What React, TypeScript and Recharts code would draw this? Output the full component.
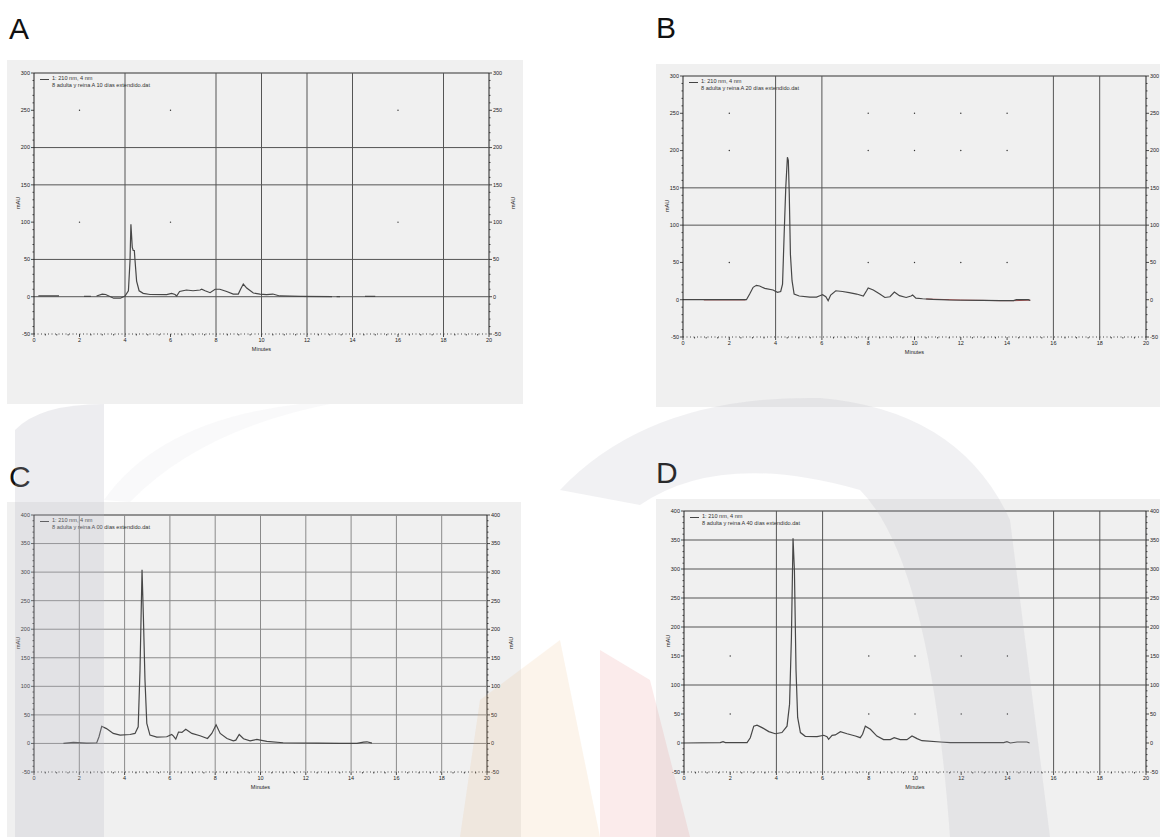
import React from 'react';
import { LineChart, Line, XAxis, YAxis, ReferenceLine, ReferenceDot } from 'recharts';

// retention time (min) and absorbance (mAU); null breaks the trace
const timesA = [0.19, 1.1, null, 2.2, 2.5, null, 2.75, 3.0, 3.15, 3.5, 3.8, 4.0, 4.15, 4.22, 4.26, 4.32, 4.36, 4.41, 4.44, 4.51, 4.62, 4.8, 5.1, 5.83, 6.05, 6.2, 6.27, 6.4, 6.7, 6.99, 7.3, 7.37, 7.52, 7.74, 7.96, 8.17, 8.47, 8.76, 8.98, 9.08, 9.2, 9.35, 9.64, 9.93, 10.22, 10.5, 10.8, 11.7, 13.1, null, 13.3, 13.45, null, 14.55, 15.0];
const valuesA = [1, 1, null, 0.5, 0.5, null, 1, 3.5, 3, -2, -2, 1, 8, 48, 97, 66, 62, 62, 49, 21, 8, 4.5, 3, 2.7, 4.5, 3, 1, 7, 9, 8, 9, 10, 8, 5.4, 10, 10, 7, 3.6, 3.6, 10, 17, 11.6, 5, 3.6, 2.8, 3.6, 1, 0.5, 0, null, 0, 0, null, 0.5, 0.5];

const timesB = [0, 2.74, 2.88, 3.03, 3.17, 3.31, 3.53, 3.89, 4.08, 4.22, 4.3, 4.37, 4.44, 4.51, 4.55, 4.59, 4.64, 4.71, 4.8, 5.02, 5.48, 5.77, 5.91, 6.03, 6.17, 6.27, 6.38, 6.6, 6.89, 7.18, 7.5, 7.79, 7.93, 8.0, 8.22, 8.5, 8.72, 8.94, 9.13, 9.35, 9.64, 9.85, 9.92, 10.06, 10.35, 10.78, 11.5, 12.95, 13.7, 14.28, 14.4, 14.92, 15.0];
const valuesB = [0, 0, 7.6, 16.6, 19.3, 18.4, 15.2, 13, 9.9, 11, 21, 88, 151, 191, 187, 142, 61, 25.5, 7.6, 5, 3.6, 3.6, 5.4, 6.7, 4, -1.3, 6.3, 12, 11, 9.4, 7.6, 5, 12, 15.7, 13, 7.6, 3, 4, 10.3, 5.4, 3, 5, 6.3, 2.2, 1.3, 0.4, -0.4, -1, -1.3, -1.3, 0, 0, -1];
const timesBRef = [0.9, 2.7, null, 10.5, 12.0, 13.7, 14.3, 15.0];
const valuesBRef = [-0.3, -0.3, null, 1, -0.4, -1.3, -1.3, -0.6];

const timesC = [1.3, 1.74, 2.33, 2.77, 2.87, 2.99, 3.2, 3.5, 3.8, 4.24, 4.46, 4.6, 4.68, 4.77, 4.83, 4.9, 4.98, 5.12, 5.42, 5.86, 6.08, 6.15, 6.26, 6.38, 6.53, 6.7, 6.97, 7.33, 7.66, 7.85, 8.04, 8.22, 8.52, 8.8, 8.91, 9.06, 9.25, 9.54, 9.84, 9.99, 10.28, 11.0, 12.5, 13.5, 14.26, 14.55, 14.7, 14.92];
const valuesC = [0, 1.7, 0.6, 1.2, 11.7, 30, 26, 17.5, 14.6, 15.7, 17.5, 29, 128, 304, 221, 111, 35, 14.6, 11, 11.7, 15.7, 13.4, 7.6, 20, 19.4, 25, 17.5, 13.4, 8.7, 17.5, 32.6, 17.5, 8.7, 4.7, 5.8, 15.7, 8.2, 4.7, 7, 5.8, 3.5, 1.2, 0.6, 0, 0, 2.3, 2.9, 0.6];

const timesD = [0, 1.57, 1.69, 1.79, 2.73, 2.87, 3.02, 3.16, 3.38, 3.67, 3.95, 4.24, 4.46, 4.57, 4.65, 4.72, 4.78, 4.85, 4.92, 5.04, 5.25, 5.76, 6.05, 6.19, 6.26, 6.41, 6.55, 6.77, 7.06, 7.42, 7.63, 7.73, 7.85, 8.07, 8.35, 8.64, 8.93, 9.1, 9.36, 9.65, 9.87, 10.09, 10.3, 11.1, 11.53, 13.84, 13.98, 14.13, 14.42, 14.85, 14.96];
const valuesD = [0, 0.6, 2.3, 0.6, 0.6, 9, 29, 30.6, 26.5, 19.6, 16, 18, 29, 67, 182, 353, 298, 125, 44, 18, 11.5, 11, 13.3, 11, 6.3, 13.3, 13.9, 19.6, 16, 12, 9.2, 15, 29, 23.7, 12, 5.8, 5.8, 9.2, 5.8, 5.8, 12, 7.5, 4, 1.7, 0.6, 0.6, 2.3, 0, 1.7, 1.7, 0];

// axis ticks (major labelled, minor unlabelled)
const minuteTicks = [0, 2, 4, 6, 8, 10, 12, 14, 16, 18, 20];
const minuteMinor = Array.from({ length: 41 }, (_, i) => i * 0.5);
const mauTicks300 = [-50, 0, 50, 100, 150, 200, 250, 300];
const mauTicks400 = [-50, 0, 50, 100, 150, 200, 250, 300, 350, 400];

// grid lines that survive in each scan, plus the lone intersection dots
const gridA = { h: [200, 150, 50, 0], v: [4, 8, 10, 12, 14, 18], dotX: [2, 6, 16], dotY: [250, 100] };
const gridB = { h: [150, 100], v: [4, 6, 16, 18], dotX: [2, 8, 10, 12, 14], dotY: [250, 200, 50] };
const gridC = { h: [350, 300, 250, 200, 150, 100, 50, 0], v: [2, 4, 6, 8, 10, 12, 14, 16, 18], dotX: [], dotY: [] };
const gridD = { h: [350, 300, 250, 200, 100], v: [4, 6, 16, 18], dotX: [2, 8, 10, 12, 14], dotY: [150, 50] };

const legendTitle = '1: 210 nm, 4 nm';
const legendFiles = [
  '8 adulta y reina A 10 días extendido.dat',
  '8 adulta y reina A 20 días extendido.dat',
  '8 adulta y reina A 00 días extendido.dat',
  '8 adulta y reina A 40 días extendido.dat',
];

const FONT = '"Liberation Sans", Arial, sans-serif';
const INK = '#222';

function toPoints(times: (number | null)[], values: (number | null)[]) {
  return times.map((t, i) => ({ t, v: values[i] }));
}

// draws the left tick and its mirror on the right-hand axis
function yTick(major: number[], rightX: number) {
  return (props: any) => {
    const { x, y, payload } = props;
    const isMajor = major.includes(payload.value);
    const len = isMajor ? 3 : 1.5;
    return (
      <g>
        <line x1={x} x2={x - len} y1={y} y2={y} stroke={INK} strokeWidth={0.8} />
        <line x1={rightX} x2={rightX + len} y1={y} y2={y} stroke={INK} strokeWidth={0.8} />
        {isMajor && (
          <text x={x - 4} y={y} dy="0.35em" textAnchor="end" fontSize={5.5} fontFamily={FONT} fill={INK}>
            {payload.value}
          </text>
        )}
        {isMajor && (
          <text x={rightX + 4} y={y} dy="0.35em" textAnchor="start" fontSize={5.5} fontFamily={FONT} fill={INK}>
            {payload.value}
          </text>
        )}
      </g>
    );
  };
}

function xTick(props: any) {
  const { x, y, payload } = props;
  const isMajor = minuteTicks.includes(payload.value);
  return (
    <g>
      <line x1={x} x2={x} y1={y} y2={y + (isMajor ? 3 : 1.5)} stroke={INK} strokeWidth={0.8} />
      {isMajor && (
        <text x={x} y={y + 8} textAnchor="middle" fontSize={5.5} fontFamily={FONT} fill={INK}>
          {payload.value}
        </text>
      )}
    </g>
  );
}

interface PanelProps {
  left: number;
  top: number;
  width: number;
  height: number;
  margin: { top: number; right: number; bottom: number; left: number };
  yMax: number;
  yTicks: number[];
  grid: { h: number[]; v: number[]; dotX: number[]; dotY: number[] };
  gridColor: string;
  points: { t: number | null; v: number | null }[];
  refPoints?: { t: number | null; v: number | null }[];
  file: string;
  rightLabel: boolean;
}

const AXIS_W = 20;
const AXIS_H = 20;

function Panel({ left, top, width, height, margin, yMax, yTicks, grid, gridColor, points, refPoints, file, rightLabel }: PanelProps) {
  const yAll = Array.from({ length: (yMax + 50) / 10 + 1 }, (_, i) => -50 + i * 10);
  const m = {
    top: margin.top,
    left: margin.left - AXIS_W,
    right: margin.right,
    bottom: margin.bottom - AXIS_H,
  };
  const rightX = width - margin.right;
  const labelStyle = { fontSize: 5.5, fontFamily: FONT, fill: INK };
  const midY = margin.top + (height - margin.top - margin.bottom) / 2;
  const sideText: React.CSSProperties = {
    position: 'absolute',
    top: midY - 4,
    transform: 'rotate(-90deg)',
    fontFamily: FONT,
    fontSize: 5.5,
    color: INK,
  };
  return (
    <div style={{ position: 'absolute', left, top, width, height, background: '#f0f0f0' }}>
      <LineChart width={width} height={height} margin={m}>
        <XAxis
          xAxisId="x"
          dataKey="t"
          type="number"
          domain={[0, 20]}
          ticks={minuteMinor}
          interval={0}
          height={AXIS_H}
          tick={xTick}
          tickSize={0}
          tickMargin={0}
          tickLine={false}
          axisLine={{ stroke: '#444', strokeDasharray: '1 2.5' }}
          label={{ value: 'Minutes', position: 'insideBottom', offset: 3, style: labelStyle }}
        />
        <YAxis
          yAxisId="l"
          type="number"
          domain={[-50, yMax]}
          ticks={yAll}
          interval={0}
          width={AXIS_W}
          tick={yTick(yTicks, rightX)}
          tickSize={0}
          tickMargin={0}
          tickLine={false}
          axisLine={{ stroke: INK }}
        />
        <ReferenceLine xAxisId="x" yAxisId="l" y={yMax} stroke="#333" strokeWidth={1} />
        <ReferenceLine xAxisId="x" yAxisId="l" x={20} stroke={INK} strokeWidth={1} />
        {grid.h.map((y) => (
          <ReferenceLine key={'h' + y} xAxisId="x" yAxisId="l" y={y} stroke={gridColor} strokeWidth={1} />
        ))}
        {grid.v.map((x) => (
          <ReferenceLine key={'v' + x} xAxisId="x" yAxisId="l" x={x} stroke={gridColor} strokeWidth={1} />
        ))}
        {grid.dotX.flatMap((x) =>
          grid.dotY.map((y) => (
            <ReferenceDot key={`d${x}-${y}`} xAxisId="x" yAxisId="l" x={x} y={y} r={0.7} fill="#333" stroke="none" />
          ))
        )}
        {refPoints && (
          <Line
            xAxisId="x"
            yAxisId="l"
            data={refPoints}
            dataKey="v"
            type="linear"
            stroke="#a04a4a"
            strokeWidth={1}
            dot={false}
            connectNulls={false}
            isAnimationActive={false}
          />
        )}
        <Line
          xAxisId="x"
          yAxisId="l"
          data={points}
          dataKey="v"
          name={legendTitle}
          type="linear"
          stroke="#474747"
          strokeWidth={1.2}
          dot={false}
          connectNulls={false}
          isAnimationActive={false}
        />
      </LineChart>
      <div style={{ ...sideText, left: margin.left - 22 }}>mAU</div>
      {rightLabel && <div style={{ ...sideText, left: width - margin.right + 18 }}>mAU</div>}
      <div
        style={{
          position: 'absolute',
          left: margin.left + 6,
          top: margin.top + 2,
          display: 'flex',
          fontFamily: FONT,
          fontSize: 5.6,
          color: '#333',
          lineHeight: '6.5px',
          whiteSpace: 'nowrap',
        }}
      >
        <div style={{ width: 9, height: 1, background: '#444', marginTop: 4, marginRight: 3 }} />
        <div>
          <div>{legendTitle}</div>
          <div>{file}</div>
        </div>
      </div>
    </div>
  );
}

const letterStyle: React.CSSProperties = {
  position: 'absolute',
  fontFamily: FONT,
  fontSize: 30,
  lineHeight: '30px',
  color: '#111',
};

function Watermark() {
  return (
    <svg width={1160} height={837} style={{ position: 'absolute', left: 0, top: 0, pointerEvents: 'none' }}>
      <path d="M 15 837 L 15 430 Q 40 404 104 404 L 104 837 Z" fill="#b8b8c4" opacity={0.25} />
      <path d="M 104 500 Q 160 420 300 404 L 330 404 Q 200 430 130 502 Z" fill="#c8c8d0" opacity={0.1} />
      <path d="M 560 490 Q 650 395 820 398 Q 960 410 1010 520 L 1050 837 L 950 837 Q 930 560 860 490 Q 720 450 640 505 Z" fill="#a8a8b4" opacity={0.16} />
      <path d="M 460 837 L 480 700 L 560 640 L 600 837 Z" fill="#e8b070" opacity={0.14} />
      <path d="M 600 837 L 600 650 L 650 680 L 690 837 Z" fill="#e07070" opacity={0.14} />
    </svg>
  );
}

export default function App() {
  return (
    <div style={{ position: 'absolute', left: 0, top: 0, width: 1160, height: 837, background: '#fff', overflow: 'hidden' }}>
      <div style={{ ...letterStyle, left: 9, top: 14 }}>A</div>
      <div style={{ ...letterStyle, left: 656, top: 13 }}>B</div>
      <div style={{ ...letterStyle, left: 9, top: 462 }}>C</div>
      <div style={{ ...letterStyle, left: 656, top: 458 }}>D</div>
      <Panel
        left={7}
        top={60}
        width={516}
        height={344}
        margin={{ top: 13, right: 34, bottom: 70, left: 27 }}
        yMax={300}
        yTicks={mauTicks300}
        grid={gridA}
        gridColor="#555"
        points={toPoints(timesA, valuesA)}
        file={legendFiles[0]}
        rightLabel
      />
      <Panel
        left={656}
        top={64}
        width={504}
        height={343}
        margin={{ top: 12, right: 14, bottom: 70, left: 27 }}
        yMax={300}
        yTicks={mauTicks300}
        grid={gridB}
        gridColor="#555"
        points={toPoints(timesB, valuesB)}
        refPoints={toPoints(timesBRef, valuesBRef)}
        file={legendFiles[1]}
        rightLabel={false}
      />
      <Panel
        left={7}
        top={502}
        width={514}
        height={335}
        margin={{ top: 13, right: 34, bottom: 65, left: 27 }}
        yMax={400}
        yTicks={mauTicks400}
        grid={gridC}
        gridColor="#8a8a8a"
        points={toPoints(timesC, valuesC)}
        file={legendFiles[2]}
        rightLabel
      />
      <Panel
        left={656}
        top={499}
        width={504}
        height={338}
        margin={{ top: 12, right: 14, bottom: 65, left: 28 }}
        yMax={400}
        yTicks={mauTicks400}
        grid={gridD}
        gridColor="#555"
        points={toPoints(timesD, valuesD)}
        file={legendFiles[3]}
        rightLabel={false}
      />
      <Watermark />
    </div>
  );
}
